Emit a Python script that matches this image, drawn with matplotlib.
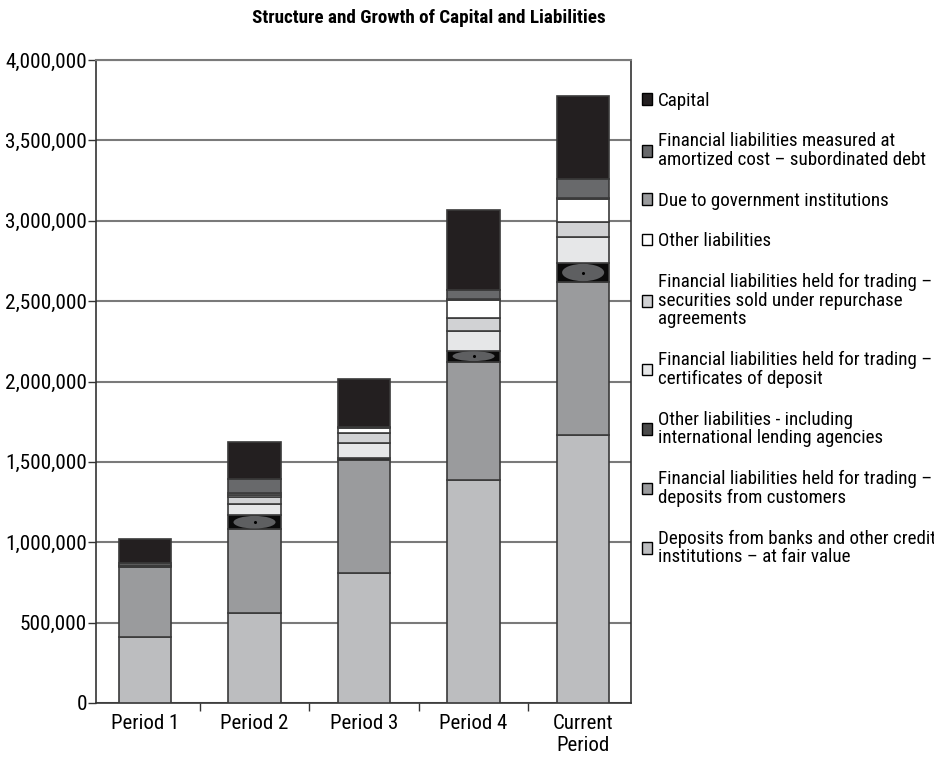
import matplotlib
matplotlib.use("Agg")
import matplotlib.pyplot as plt
from matplotlib.patches import Patch, Ellipse
from matplotlib.ticker import FuncFormatter, FixedLocator
import numpy as np

plt.rcParams['font.family'] = ['Roboto Condensed', 'Liberation Sans Narrow',
                               'Liberation Sans', 'DejaVu Sans']

periods = ["Period 1", "Period 2", "Period 3", "Period 4", "Current\nPeriod"]

# stack order, bottom to top
banks = [410000, 558000, 811000, 1387000, 1667000]
customers = [438000, 522000, 700000, 736000, 950000]
intl = [0, 89000, 11000, 69000, 122000]
certificates = [5000, 67000, 93000, 120000, 162000]
repurchase = [8000, 48000, 65000, 84000, 89000]
other = [8000, 12000, 30000, 110000, 143000]
government = [0, 10000, 4000, 7000, 7000]
sub_debt = [0, 85000, 4000, 56000, 118000]
capital = [152000, 234000, 296000, 498000, 518000]

labels = [
    "Deposits from banks and other credit\ninstitutions \u2013 at fair value",
    "Financial liabilities held for trading \u2013\ndeposits from customers",
    "Other liabilities - including\ninternational lending agencies",
    "Financial liabilities held for trading \u2013\ncertificates of deposit",
    "Financial liabilities held for trading \u2013\nsecurities sold under repurchase\nagreements",
    "Other liabilities",
    "Due to government institutions",
    "Financial liabilities measured at\namortized cost \u2013 subordinated debt",
    "Capital",
]
series = [banks, customers, intl, certificates, repurchase, other,
          government, sub_debt, capital]
colors = ["#bcbdbf", "#9a9b9d", "#0a0a0a", "#e6e7e8", "#d1d2d4",
          "#ffffff", "#9a9b9d", "#68696b", "#231f20"]

fig = plt.figure(figsize=(9.34, 7.62), dpi=100)
ax = fig.add_axes([96 / 934, 1 - 703 / 762, 535 / 934, 643 / 762])

x = np.arange(len(periods))
width = 0.48
bottom = np.zeros(len(periods))
handles = []
for vals, col, lab in zip(series, colors, labels):
    vals = np.array(vals, dtype=float)
    ax.bar(x, vals, width, bottom=bottom, color=col, edgecolor="#3a3a3a",
           linewidth=1.2, zorder=3)
    if lab.startswith("Other liabilities - including"):
        # inner rounded mark on the lending-agency block
        for xi, b, h in zip(x, bottom, vals):
            if h > 30000:
                ax.add_patch(Ellipse((xi, b + h / 2), width * 0.8, h * 0.88,
                                     facecolor="#5e5f61", edgecolor="none",
                                     zorder=4))
                ax.plot(xi, b + h / 2, marker="o", ms=1.2, color="black",
                        zorder=5)
        handles.append(Patch(facecolor="#4a4a4a", edgecolor="black", lw=1))
    else:
        handles.append(Patch(facecolor=col, edgecolor="black", lw=1))
    bottom += vals

ax.set_xlim(-0.447, 4.437)
ax.set_ylim(0, 4000000)
ax.yaxis.set_major_locator(FixedLocator(np.arange(0, 4000001, 500000)))
ax.yaxis.set_major_formatter(FuncFormatter(lambda v, p: f"{int(v):,}"))
ax.yaxis.grid(True, color="#7a7a7a", linewidth=1.5, zorder=0)
ax.tick_params(axis="y", direction="out", length=6, width=1, labelsize=15.3,
               pad=0.5, color="#333333")

ax.set_xticks(x)
ax.set_xticklabels(periods, fontsize=15, linespacing=1.2)
ax.tick_params(axis="x", length=0, pad=8)
ax.set_xticks(np.arange(0.5, 4.5, 1), minor=True)
ax.tick_params(axis="x", which="minor", direction="out", length=6, width=1,
               color="#333333")

for side in ["left", "bottom", "right"]:
    ax.spines[side].set_color("#333333")
    ax.spines[side].set_linewidth(1.2)
ax.spines["top"].set_color("#7a7a7a")
ax.spines["top"].set_linewidth(1.5)

fig.text(429 / 934, 1 - 18 / 762, "Structure and Growth of Capital and Liabilities",
         ha="center", va="center", fontsize=13.8, fontweight="bold")

leg = fig.legend(handles[::-1], labels[::-1], loc="upper left",
                 bbox_to_anchor=(634 / 934, 1 - 84 / 762), frameon=False,
                 fontsize=13.7, handlelength=0.55, handleheight=0.55,
                 handletextpad=0.3, labelspacing=1.19, borderaxespad=0)
for t in leg.get_texts():
    t.set_linespacing(1.05)

fig.savefig("out.png", dpi=100)
